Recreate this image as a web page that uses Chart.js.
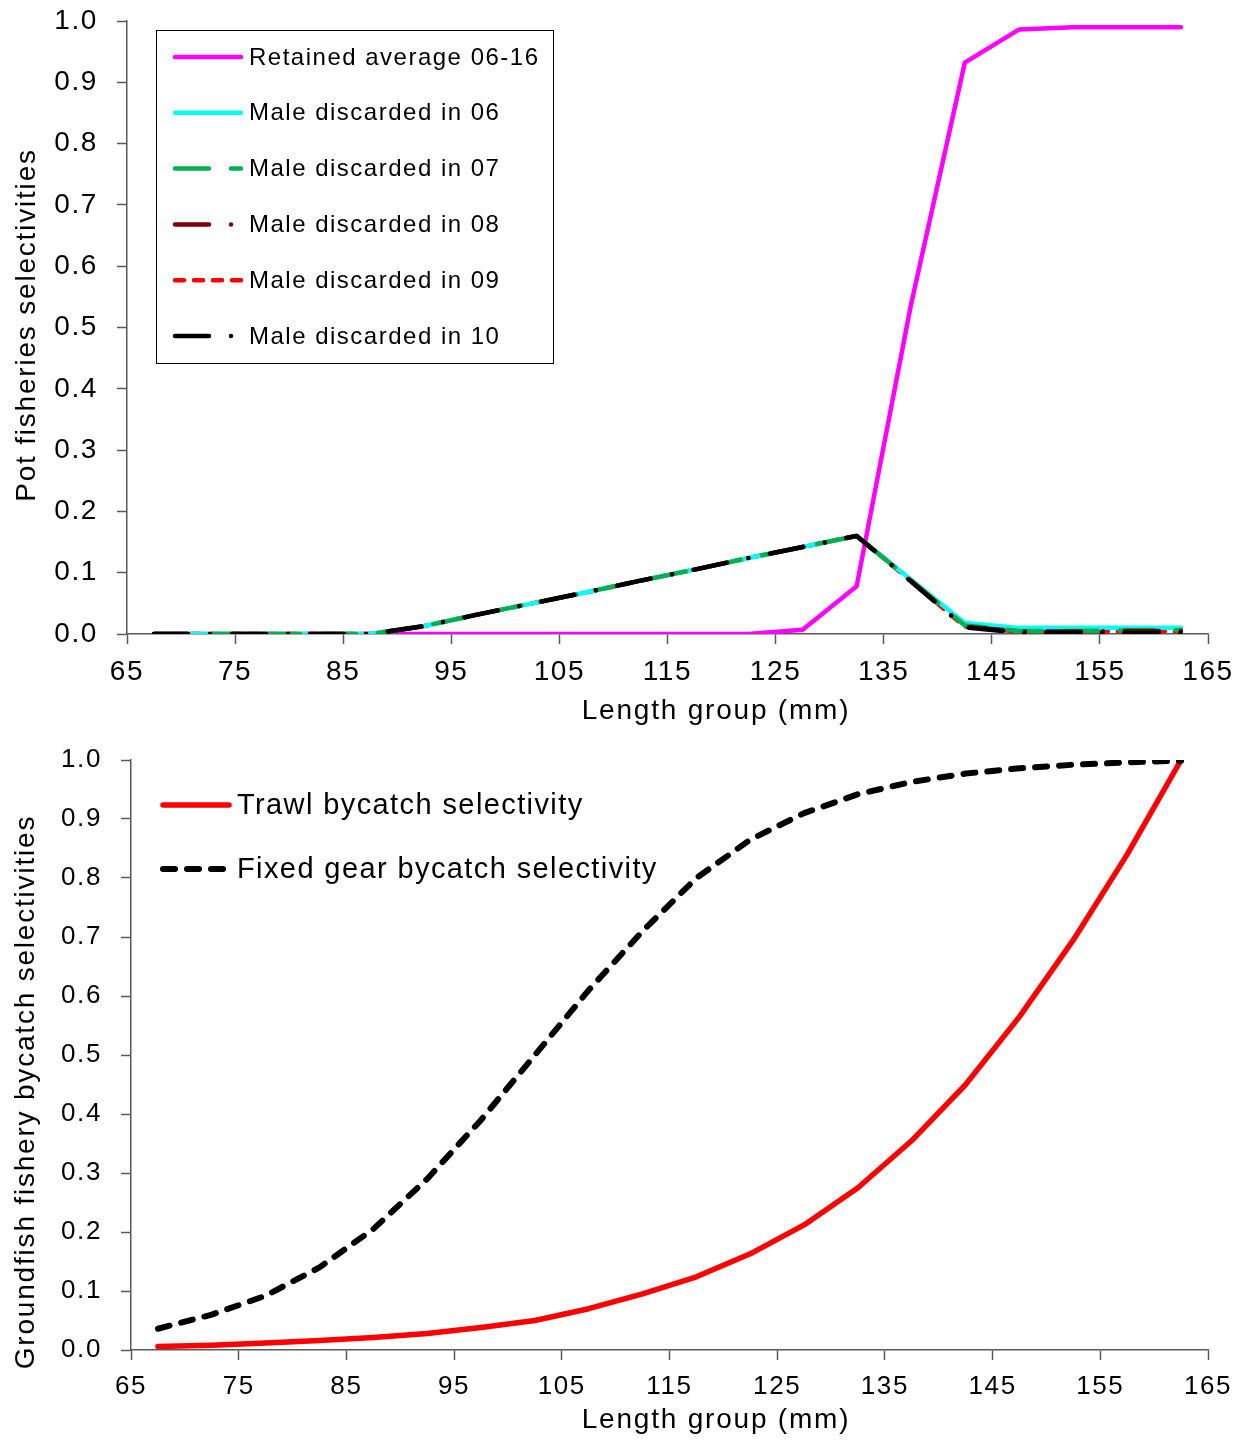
<!DOCTYPE html>
<html>
<head>
<meta charset="utf-8">
<script src="https://cdn.jsdelivr.net/npm/chart.js@4/dist/chart.umd.min.js"></script>
<style>
  html, body { margin: 0; padding: 0; background: #fff; }
  canvas { display: block; }
</style>
</head>
<body>
<canvas id="pot" width="1248" height="735"></canvas>
<canvas id="ground" width="1248" height="705"></canvas>
<script>
// ── Data ────────────────────────────────────────────────────────────────────
const LENGTHS = [67.5, 72.5, 77.5, 82.5, 87.5, 92.5, 97.5, 102.5, 107.5, 112.5,
                 117.5, 122.5, 127.5, 132.5, 137.5, 142.5, 147.5, 152.5, 157.5, 162.5];

const RETAINED = [0, 0, 0, 0, 0, 0, 0, 0, 0, 0, 0, 0, 0.007, 0.078, 0.535, 0.932, 0.986, 0.99, 0.99, 0.99];
const DISC_06  = [0, 0, 0, 0, 0, 0.013, 0.032, 0.050, 0.068, 0.087, 0.105, 0.124, 0.142, 0.160, 0.089, 0.018, 0.010, 0.010, 0.010, 0.010];
const DISC_07  = [0, 0, 0, 0, 0, 0.013, 0.032, 0.050, 0.068, 0.087, 0.105, 0.124, 0.142, 0.160, 0.088, 0.014, 0.005, 0.005, 0.006, 0.006];
const DISC_08  = [0, 0, 0, 0, 0, 0.013, 0.032, 0.050, 0.068, 0.087, 0.105, 0.124, 0.142, 0.160, 0.087, 0.012, 0.004, 0.004, 0.005, 0.005];
const DISC_09  = [0, 0, 0, 0, 0, 0.013, 0.032, 0.050, 0.068, 0.087, 0.105, 0.124, 0.142, 0.160, 0.087, 0.012, 0.004, 0.004, 0.004, 0.004];
const DISC_10  = [0, 0, 0, 0, 0, 0.013, 0.032, 0.050, 0.068, 0.087, 0.105, 0.124, 0.142, 0.160, 0.086, 0.011, 0.002, 0.002, 0.002, 0.002];

const TRAWL = [0.006, 0.008, 0.012, 0.016, 0.021, 0.028, 0.038, 0.050, 0.070, 0.095,
               0.124, 0.163, 0.212, 0.275, 0.355, 0.450, 0.565, 0.695, 0.840, 1.0];
const FIXED = [0.036, 0.060, 0.092, 0.140, 0.205, 0.290, 0.390, 0.500, 0.610, 0.710,
               0.800, 0.865, 0.910, 0.942, 0.963, 0.977, 0.986, 0.992, 0.996, 0.999];

const X_MIN = 65, X_MAX = 165, X_STEP = 10;
const Y_MIN = 0, Y_MAX = 1, Y_STEP = 0.1;

// ── Helpers ─────────────────────────────────────────────────────────────────
const FONT = "'Liberation Sans', Arial, sans-serif";
const AXIS = '#595959';

const pts = arr => LENGTHS.map((x, i) => ({ x, y: arr[i] }));

function line(label, arr, color, width, dash, order) {
  return {
    label, data: pts(arr), borderColor: color, borderWidth: width,
    borderDash: dash, borderCapStyle: 'round', borderJoinStyle: 'round',
    pointRadius: 0, tension: 0, fill: false, order
  };
}

// letter spacing so Liberation Sans matches the wide Excel text
const spacing = px => ({
  id: 'spacing',
  beforeLayout(c) { c.ctx.letterSpacing = px + 'px'; },
  beforeDraw(c)   { c.ctx.letterSpacing = px + 'px'; }
});

// legend with real line samples (dashes included)
const lineLegend = {
  id: 'lineLegend',
  afterDraw(chart, args, o) {
    const ctx = chart.ctx;
    ctx.save();
    if (o.box) {
      ctx.strokeStyle = '#000';
      ctx.lineWidth = 1;
      ctx.strokeRect(o.box[0] + 0.5, o.box[1] + 0.5, o.box[2], o.box[3]);
    }
    ctx.font = o.font;
    ctx.letterSpacing = o.spacing;
    ctx.textBaseline = 'middle';
    ctx.fillStyle = '#000';
    (o.items || []).forEach((idx, i) => {
      const ds = chart.data.datasets[idx];
      const y = o.y0 + i * o.dy;
      ctx.strokeStyle = ds.borderColor;
      ctx.lineWidth = ds.borderWidth;
      ctx.lineCap = 'round';
      ctx.setLineDash(ds.borderDash || []);
      ctx.beginPath();
      ctx.moveTo(o.x0, y);
      ctx.lineTo(o.x1, y);
      ctx.stroke();
      ctx.setLineDash([]);
      ctx.fillText(ds.label, o.tx, y + 1);
    });
    ctx.restore();
  }
};

// axis titles placed where Excel put them (not always centred on the axis)
const axisTitles = {
  id: 'axisTitles',
  afterDraw(chart, args, o) {
    const ctx = chart.ctx;
    ctx.save();
    ctx.font = o.font;
    ctx.letterSpacing = o.spacing;
    ctx.fillStyle = '#000';
    ctx.textAlign = 'center';
    ctx.textBaseline = 'middle';
    ctx.fillText(o.x.text, o.x.cx, o.x.cy);
    ctx.translate(o.y.cx, o.y.cy);
    ctx.rotate(-Math.PI / 2);
    ctx.fillText(o.y.text, 0, 0);
    ctx.restore();
  }
};

function scales(yWidth, xHeight, tickSize) {
  const ticksFont = { family: FONT, size: tickSize };
  return {
    x: {
      type: 'linear', min: X_MIN, max: X_MAX,
      ticks: { stepSize: X_STEP, color: '#000', font: ticksFont, padding: 11, maxRotation: 0 },
      grid: { drawOnChartArea: false, drawTicks: true, tickLength: 10, tickColor: AXIS, tickWidth: 1.5 },
      border: { display: true, color: AXIS, width: 1.5 },
      afterFit: s => { s.height = xHeight; s.paddingLeft = 0; s.paddingRight = 0; }
    },
    y: {
      min: Y_MIN, max: Y_MAX,
      ticks: { stepSize: Y_STEP, color: '#000', font: ticksFont, padding: 19,
               callback: v => v.toFixed(1) },
      grid: { drawOnChartArea: false, drawTicks: true, tickLength: 10, tickColor: AXIS, tickWidth: 1.5 },
      border: { display: true, color: AXIS, width: 1.5 },
      // the tick padding would otherwise push the plot top down
      afterFit: s => { s.width = yWidth; s.paddingTop = 0; s.paddingBottom = 0; }
    }
  };
}

// ── Pot fisheries chart ─────────────────────────────────────────────────────
new Chart(document.getElementById('pot'), {
  type: 'line',
  data: {
    datasets: [
      line('Retained average 06-16', RETAINED, '#FF00FF', 4.5, [], 6),
      line('Male discarded in 06', DISC_06, '#00FFFF', 4.5, [], 4),
      line('Male discarded in 07', DISC_07, '#00B050', 4.5, [34, 22], 2),
      line('Male discarded in 08', DISC_08, '#800000', 4.5, [34, 22, 0, 22], 1),
      line('Male discarded in 09', DISC_09, '#FF0000', 4.5, [9, 10], 5),
      line('Male discarded in 10', DISC_10, '#000000', 4.5, [34, 22, 0, 22], 0)
    ]
  },
  plugins: [spacing(1.6), lineLegend, axisTitles],
  options: {
    responsive: false,
    animation: false,
    layout: { padding: { left: 0, right: 40, top: 21, bottom: 0 } },
    plugins: {
      legend: { display: false },
      tooltip: { enabled: false },
      lineLegend: { items: [0, 1, 2, 3, 4, 5], box: [156, 30, 397, 333],
                    x0: 175, x1: 241, tx: 249, y0: 57, dy: 55.8,
                    font: '24px ' + FONT, spacing: '1.5px' },
      axisTitles: { font: '28px ' + FONT, spacing: '1.8px',
                    x: { text: 'Length group (mm)', cx: 716, cy: 711 },
                    y: { text: 'Pot fisheries selectivities', cx: 27, cy: 325 } }
    },
    scales: scales(127, 101, 28)
  }
});

// ── Groundfish bycatch chart ────────────────────────────────────────────────
new Chart(document.getElementById('ground'), {
  type: 'line',
  data: {
    datasets: [
      line('Trawl bycatch selectivity', TRAWL, '#FF0000', 5.5, [], 1),
      line('Fixed gear bycatch selectivity', FIXED, '#000000', 6, [12, 12], 0)
    ]
  },
  plugins: [spacing(1.6), lineLegend, axisTitles],
  options: {
    responsive: false,
    animation: false,
    layout: { padding: { left: 0, right: 40, top: 25, bottom: 0 } },
    plugins: {
      legend: { display: false },
      tooltip: { enabled: false },
      lineLegend: { items: [0, 1], x0: 163, x1: 229, tx: 237, y0: 70, dy: 64,
                    font: '29px ' + FONT, spacing: '1.4px' },
      axisTitles: { font: '28px ' + FONT, spacing: '1.8px',
                    x: { text: 'Length group (mm)', cx: 716, cy: 685 },
                    y: { text: 'Groundfish fishery bycatch selectivities', cx: 26, cy: 357 } }
    },
    scales: scales(131, 90, 26)
  }
});
</script>
</body>
</html>
